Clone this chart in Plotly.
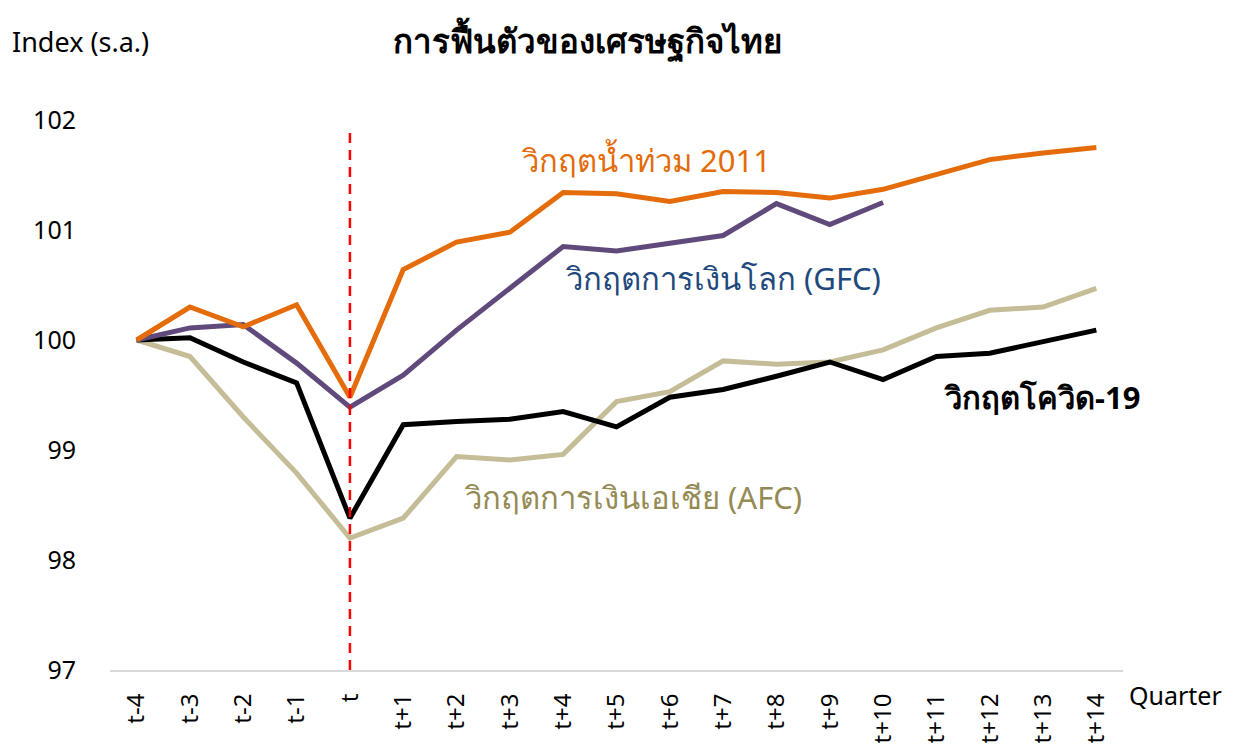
import plotly.graph_objects as go

quarters = ["t-4", "t-3", "t-2", "t-1", "t", "t+1", "t+2", "t+3", "t+4", "t+5",
            "t+6", "t+7", "t+8", "t+9", "t+10", "t+11", "t+12", "t+13", "t+14"]

flood_2011 = [100.0, 100.30, 100.12, 100.32, 99.48, 100.64, 100.89, 100.98, 101.34, 101.33,
              101.26, 101.35, 101.34, 101.29, 101.37, 101.50, 101.64, 101.70, 101.75]
gfc = [100.0, 100.11, 100.14, 99.79, 99.39, 99.68, 100.09, 100.47, 100.85, 100.81,
       100.88, 100.95, 101.24, 101.05, 101.25]
covid = [100.0, 100.02, 99.80, 99.61, 98.38, 99.23, 99.26, 99.28, 99.35, 99.21,
         99.48, 99.55, 99.67, 99.80, 99.64, 99.85, 99.88, 99.98, 100.09]
afc = [100.0, 99.85, 99.30, 98.79, 98.20, 98.38, 98.94, 98.91, 98.96, 99.44,
       99.53, 99.81, 99.78, 99.80, 99.91, 100.11, 100.27, 100.30, 100.47]

FONT = "Tahoma, 'Noto Sans', 'DejaVu Sans', sans-serif"

fig = go.Figure()
series = [
    ("AFC", afc, "#C4BD97"),
    ("COVID", covid, "#000000"),
    ("GFC", gfc, "#604A7B"),
    ("Flood 2011", flood_2011, "#E46C0A"),
]
for name, vals, col in series:
    fig.add_trace(go.Scatter(x=quarters[:len(vals)], y=vals, mode="lines", name=name,
                             line=dict(color=col, width=5), showlegend=False))

t_idx = quarters.index("t")
fig.add_shape(type="line", xref="x", yref="y", x0=t_idx, x1=t_idx, y0=97, y1=101.9,
              line=dict(color="#FF0000", width=2.5, dash="10px,7px"))

ann = [
    ("วิกฤตน้ำท่วม 2011", 9.56, 101.64, "#E36C09", False),
    ("วิกฤตการเงินโลก (GFC)", 11.0, 100.56, "#1F497D", False),
    ("วิกฤตการเงินเอเชีย (AFC)", 9.31, 98.57, "#948A54", False),
    ("วิกฤตโควิด-19", 16.98, 99.48, "#000000", True),
]
for txt, x, y, col, bold in ann:
    fig.add_annotation(x=x, y=y, xref="x", yref="y", showarrow=False,
                       text=f"<b>{txt}</b>" if bold else txt,
                       font=dict(size=31, color=col, family=FONT))

fig.add_annotation(xref="paper", yref="paper", x=-0.0987, y=1.142, xanchor="left", yanchor="middle",
                   showarrow=False, text="Index (s.a.)", font=dict(size=27, color="#000", family=FONT))
fig.add_annotation(xref="paper", yref="paper", x=1.004, y=-0.045, xanchor="left", yanchor="middle",
                   showarrow=False, text="Quarter", font=dict(size=25, color="#000", family=FONT))

fig.update_layout(
    width=1225, height=745,
    paper_bgcolor="white", plot_bgcolor="white",
    margin=dict(l=102, r=110, t=112, b=83, autoexpand=False),
    title=dict(text="<b>การฟื้นตัวของเศรษฐกิจไทย</b>", x=0.473, xanchor="center", y=0.955,
               yanchor="middle", font=dict(size=33, color="#000", family=FONT), automargin=False),
    xaxis=dict(type="category", range=[-0.5, 18.5], showgrid=False, showline=True,
               linecolor="#D9D9D9", linewidth=2, tickangle=-90, ticks="", automargin=False,
               ticklabelstandoff=12,
               tickfont=dict(size=24, color="#000", family=FONT)),
    yaxis=dict(range=[97, 102], dtick=1, showgrid=False, zeroline=False, showline=False,
               ticks="", ticklabelstandoff=33, automargin=False,
               tickfont=dict(size=25, color="#000", family=FONT)),
)

fig.write_html("out.html")
